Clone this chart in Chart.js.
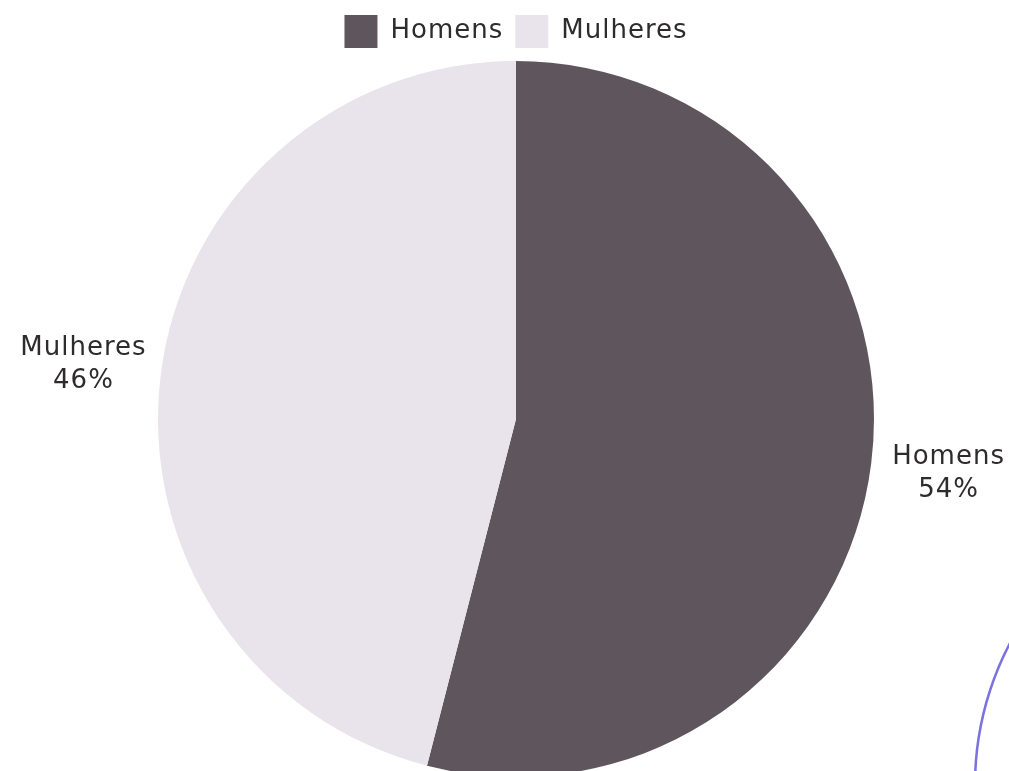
<!DOCTYPE html>
<html>
<head>
<meta charset="utf-8">
<script src="https://cdn.jsdelivr.net/npm/chart.js@4/dist/chart.umd.min.js"></script>
<style>
  html, body { margin: 0; padding: 0; background: #ffffff; overflow: hidden; }
  #wrap { width: 1009px; height: 800px; position: relative; }
</style>
</head>
<body>
<div id="wrap"><canvas id="c"></canvas></div>
<script>
const categories = ['Homens', 'Mulheres'];
const values = [54, 46];
const sliceLabels = ['Homens\n54%', 'Mulheres\n46%'];
const sliceColors = ['#5f565d', '#e9e4eb'];

const FONT = '"DejaVu Sans", "Noto Sans", sans-serif';
const SPACING = '1px';

const spacing = {
  id: 'spacing',
  beforeUpdate(chart) { chart.ctx.letterSpacing = SPACING; },
  beforeDraw(chart) { chart.ctx.letterSpacing = SPACING; }
};

const outsideLabels = {
  id: 'outsideLabels',
  afterDatasetsDraw(chart) {
    const ctx = chart.ctx;
    const meta = chart.getDatasetMeta(0);
    ctx.save();
    ctx.letterSpacing = SPACING;
    ctx.fillStyle = '#2e2b2d';
    ctx.font = '26px ' + FONT;
    ctx.textAlign = 'center';
    ctx.textBaseline = 'middle';
    meta.data.forEach((arc, i) => {
      const p = arc.getProps(['x', 'y', 'startAngle', 'endAngle', 'outerRadius'], true);
      const mid = (p.startAngle + p.endAngle) / 2;
      const d = p.outerRadius + 78;
      const cx = p.x + Math.cos(mid) * d;
      const cy = p.y + Math.sin(mid) * d;
      const lines = sliceLabels[i].split('\n');
      const lh = 33;
      lines.forEach((t, k) => {
        ctx.fillText(t, cx, cy + (k - (lines.length - 1) / 2) * lh);
      });
    });
    ctx.restore();
  }
};

const decoration = {
  id: 'decoration',
  afterDraw(chart) {
    const ctx = chart.ctx;
    ctx.save();
    ctx.strokeStyle = '#7b72df';
    ctx.lineWidth = 2.5;
    ctx.beginPath();
    ctx.arc(1280, 785, 305, Math.PI * 0.9, Math.PI * 1.3);
    ctx.stroke();
    ctx.restore();
  }
};

new Chart(document.getElementById('c'), {
  type: 'pie',
  data: {
    labels: categories,
    datasets: [{
      data: values,
      backgroundColor: sliceColors,
      borderWidth: 0,
      radius: 358
    }]
  },
  options: {
    responsive: true,
    maintainAspectRatio: false,
    animation: false,
    layout: { padding: { top: 3, left: 23, right: 0, bottom: 20 } },
    plugins: {
      tooltip: { enabled: false },
      legend: {
        position: 'top',
        labels: {
          boxWidth: 33,
          boxHeight: 33,
          padding: 12,
          color: '#2e2b2d',
          font: { family: FONT, size: 26 }
        }
      }
    }
  },
  plugins: [spacing, outsideLabels, decoration]
});
</script>
</body>
</html>
